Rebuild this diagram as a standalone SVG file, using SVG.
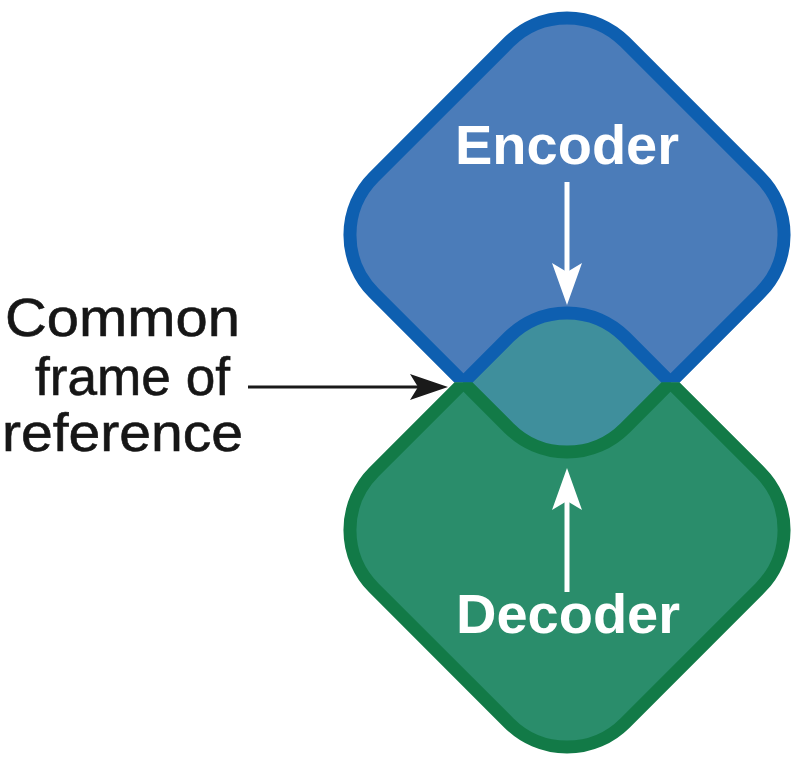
<svg xmlns="http://www.w3.org/2000/svg" width="805" height="759" viewBox="0 0 805 759">
  <style>
    .enc-fill { fill: #4b7cb9; }
    .dec-fill { fill: #2a8d6b; }
    .lens-fill { fill: #3f8f9c; }
    .edge { fill: none; stroke-width: 13; }
    .edge-blue { stroke: #0e5fb0; }
    .edge-green { stroke: #127a47; }
    .node-label { font-family: "Liberation Sans", Arial, sans-serif; font-weight: bold; font-size: 56px; fill: #ffffff; text-anchor: middle; }
    .side-label { font-family: "Liberation Sans", Arial, sans-serif; font-size: 54px; fill: #161616; stroke: #161616; stroke-width: 0.6; }
    .white-link { stroke: #ffffff; stroke-width: 5; fill: none; }
    .black-link { stroke: #1a1a1a; stroke-width: 3; fill: none; }
  </style>
  <defs>
    <!-- rounded square turned 45 degrees, centred on the origin -->
    <rect id="diamond" x="-177.5" y="-177.5" width="355" height="355" rx="82" ry="82"/>
    <clipPath id="clip-encoder">
      <use href="#diamond" transform="translate(567,235) rotate(45)"/>
    </clipPath>
    <!-- the two outlines swap colour where they cross -->
    <clipPath id="clip-upper">
      <rect x="0" y="0" width="805" height="382.5"/>
    </clipPath>
    <clipPath id="clip-lower">
      <rect x="0" y="382.5" width="805" height="377"/>
    </clipPath>
    <marker id="head-white" markerUnits="userSpaceOnUse" markerWidth="44" markerHeight="32" refX="10" refY="16" orient="auto">
      <path d="M0,1 L42,16 L0,31 L9,16 Z" fill="#ffffff"/>
    </marker>
    <marker id="head-black" markerUnits="userSpaceOnUse" markerWidth="40" markerHeight="28" refX="10" refY="13" orient="auto">
      <path d="M0,0 L38,13 L0,26 L8,13 Z" fill="#1a1a1a"/>
    </marker>
  </defs>

  <g id="encoder">
    <use href="#diamond" class="enc-fill" transform="translate(567,235) rotate(45)"/>
  </g>
  <g id="decoder">
    <use href="#diamond" class="dec-fill" transform="translate(567,530) rotate(45)"/>
  </g>
  <g id="common-frame">
    <g clip-path="url(#clip-encoder)">
      <use href="#diamond" class="lens-fill" transform="translate(567,530) rotate(45)"/>
    </g>
  </g>

  <!-- outlines: blue above the crossing line, green below -->
  <g id="outlines">
    <g clip-path="url(#clip-upper)">
      <use href="#diamond" class="edge edge-blue" transform="translate(567,235) rotate(45)"/>
      <use href="#diamond" class="edge edge-blue" transform="translate(567,530) rotate(45)"/>
    </g>
    <g clip-path="url(#clip-lower)">
      <use href="#diamond" class="edge edge-green" transform="translate(567,530) rotate(45)"/>
      <use href="#diamond" class="edge edge-green" transform="translate(567,235) rotate(45)"/>
    </g>
  </g>

  <g id="encoder-label">
    <text class="node-label" x="567" y="164">Encoder</text>
  </g>
  <g id="decoder-label">
    <text class="node-label" x="568" y="633">Decoder</text>
  </g>
  <g id="side-label">
    <text class="side-label" x="5" y="336" textLength="235" lengthAdjust="spacingAndGlyphs">Common</text>
    <text class="side-label" x="35" y="395" textLength="195" lengthAdjust="spacingAndGlyphs">frame of</text>
    <text class="side-label" x="2" y="451" textLength="241" lengthAdjust="spacingAndGlyphs">reference</text>
  </g>

  <g id="connectors">
    <line class="white-link" x1="567" y1="182" x2="567" y2="273" marker-end="url(#head-white)"/>
    <line class="white-link" x1="567" y1="592" x2="567" y2="500" marker-end="url(#head-white)"/>
    <line class="black-link" x1="248" y1="387" x2="420" y2="387" marker-end="url(#head-black)"/>
  </g>
</svg>
